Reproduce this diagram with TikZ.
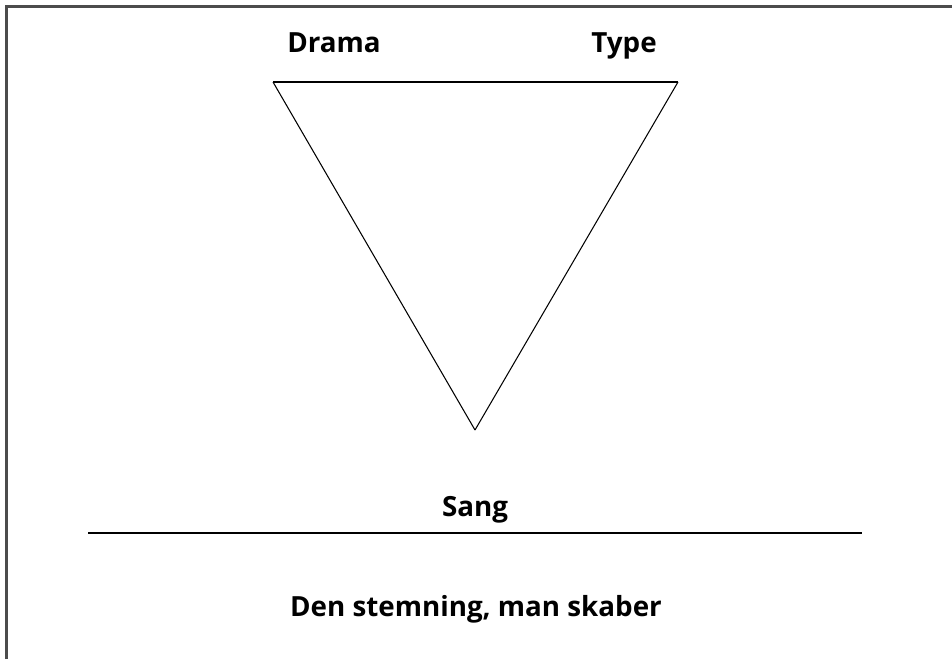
\documentclass[tikz,border=0pt]{standalone}
\usepackage{fontspec}
\setmainfont{Open Sans}
\usepackage{tikz}
\tikzset{label/.style = {font = \bfseries\fontsize{15.8}{18}\selectfont, anchor = base, inner sep = 0pt}}
\tikzset{edge/.style = {-, line width = 0.6pt}}
\tikzset{frame/.style = {draw = black!70, line width = 1.2pt}}
\begin{document}
\begin{tikzpicture}[x = 0.02cm, y = -0.02cm]
			\useasboundingbox (0, 0) rectangle (952, 659);
			\draw[frame] (6.5, 659) -- (6.5, 6.5) -- (952, 6.5);

			\coordinate (dl) at (273, 82);
			\coordinate (tr) at (678, 82);
			\coordinate (sb) at (475, 430);

			\node[label] (drama) at (334, 52) {Drama};
			\node[label] (type) at (624, 52) {Type};
			\node[label] (sang) at (475, 516) {Sang};
			\node[label] (mood) at (476, 616) {Den stemning, man skaber};

			\coordinate (ll) at (88, 533);
			\coordinate (lr) at (862, 533);

			\draw[edge] (dl) to (tr);
			\draw[edge] (tr) to (sb);
			\draw[edge] (sb) to (dl);
			\draw[edge] (ll) to (lr);
		\end{tikzpicture}
\end{document}
